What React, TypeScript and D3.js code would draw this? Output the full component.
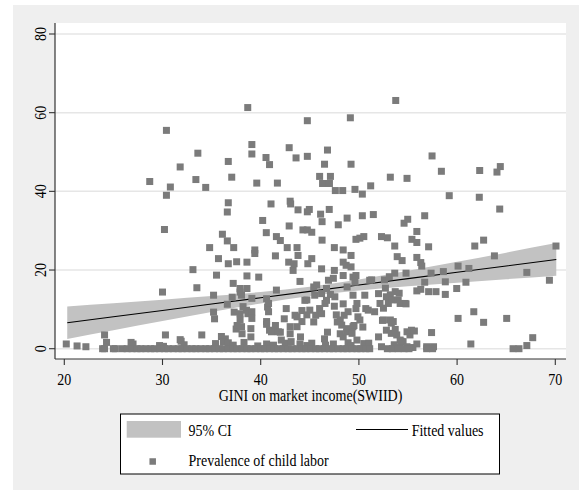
import React from "react";
import * as d3 from "d3";

// ---- Data ----
const xTicks = [20, 30, 40, 50, 60, 70];
const yTicks = [0, 20, 40, 60, 80];
const xTitle = "GINI on market income(SWIID)";
const legendLabels = ["95% CI", "Fitted values", "Prevalence of child labor"];

// fitted line and 95% CI read at these GINI values
const ciGini = [20.3, 25, 30, 35, 40, 45, 50, 55, 60, 65, 70.1];
const fitted = [6.6, 8.12, 9.73, 11.35, 12.96, 14.58, 16.2, 17.82, 19.43, 21.04, 22.69];
const ciLow = [2.45, 4.68, 7.02, 9.33, 11.5, 13.38, 14.78, 15.85, 16.78, 17.66, 18.54];
const ciHigh = [10.75, 11.56, 12.44, 13.37, 14.42, 15.78, 17.62, 19.79, 22.08, 24.42, 26.84];

// scatter points [gini, prevalence]
const highPoints: [number, number][] = [
  [28.7, 42.5], [30.4, 55.5], [30.4, 39.0], [30.8, 41.1], [31.8, 46.2], [33.4, 43.0], [33.6, 49.7],
  [34.4, 41.0], [36.6, 34.75], [36.7, 37.1], [36.7, 47.6], [37.05, 43.6], [38.68, 61.3], [39.1, 51.9],
  [39.1, 49.5], [39.6, 42.1], [40.54, 48.6], [40.9, 46.8], [41.05, 36.8], [41.7, 42.1], [42.9, 51.1],
  [43.0, 37.5], [43.05, 36.8], [43.6, 48.5], [43.8, 35.3], [44.75, 57.96], [44.75, 48.9], [44.75, 34.8],
  [44.95, 35.4], [46.0, 43.8], [46.3, 42.0], [46.5, 46.9], [46.8, 50.5], [46.98, 35.4], [47.0, 42.0],
  [47.1, 43.8], [47.6, 40.2], [48.35, 40.2], [49.13, 58.7], [49.2, 46.9], [49.6, 40.5], [50.35, 39.3],
  [51.2, 41.4], [53.2, 43.6], [53.75, 63.1], [54.9, 43.3], [57.45, 49.0], [58.4, 45.1], [59.2, 38.9],
  [62.3, 45.3], [62.26, 38.5], [64.06, 44.9], [64.4, 46.3], [64.34, 35.5],
];
const midPoints: [number, number][] = [
  [30.2, 30.3], [33.1, 20.1], [34.8, 25.7], [35.7, 22.9], [36.1, 29.1], [36.6, 27.4], [36.7, 21.6],
  [37.25, 25.7], [37.55, 22.1], [38.6, 22.0], [39.4, 25.1], [39.4, 24.2], [40.2, 32.6], [40.57, 29.5],
  [41.5, 23.6], [41.6, 28.5], [42.0, 27.5], [42.7, 25.7], [42.9, 31.2], [42.85, 22.0], [43.3, 19.9],
  [43.4, 21.6], [43.7, 25.7], [43.8, 23.7], [44.3, 30.2], [44.75, 30.2], [45.2, 29.6], [44.8, 21.6],
  [45.2, 22.9], [46.1, 34.2], [46.25, 32.3], [46.25, 27.6], [46.2, 20.3], [47.5, 25.7], [47.9, 31.5],
  [48.4, 25.1], [48.4, 22.0], [48.7, 21.2], [48.8, 33.2], [49.2, 23.7], [49.2, 20.8], [49.7, 27.8],
  [50.1, 28.1], [50.5, 28.5], [50.35, 33.8], [51.47, 34.1], [52.3, 28.5], [52.9, 28.2], [53.65, 26.1],
  [53.9, 23.4], [54.4, 22.4], [54.6, 31.9], [54.97, 32.9], [55.4, 27.8], [55.9, 27.0], [55.9, 29.8],
  [55.9, 23.2], [56.3, 21.9], [56.4, 21.0], [56.7, 33.8], [57.1, 25.9], [60.1, 21.0], [61.2, 20.4],
  [61.8, 26.1], [62.7, 27.6], [63.8, 23.6], [70.07, 26.1],
];
const lowerMidPoints: [number, number][] = [
  [30.0, 14.4], [33.5, 15.5], [35.2, 13.6], [35.5, 18.7], [36.6, 11.3], [37.2, 16.6], [37.1, 13.1],
  [37.9, 14.4], [37.9, 15.3], [38.05, 13.6], [38.6, 18.5], [38.6, 15.3], [39.1, 12.8], [39.8, 18.2],
  [40.6, 12.7], [40.7, 10.6], [40.8, 11.5], [41.6, 14.9], [42.6, 10.2], [44.0, 17.1], [44.5, 12.3],
  [44.7, 12.4], [45.5, 13.6], [45.4, 15.7], [45.7, 16.2], [46.2, 14.0], [46.55, 11.5], [46.7, 15.3],
  [46.7, 12.3], [46.9, 17.4], [47.1, 13.8], [47.4, 17.9], [47.5, 19.9], [47.55, 13.2], [47.5, 10.8],
  [48.4, 18.6], [48.4, 11.4], [48.8, 15.7], [49.4, 18.2], [49.4, 13.6], [49.6, 16.9], [49.7, 18.6],
  [49.8, 11.5], [49.7, 10.2], [50.6, 13.6], [50.7, 10.2], [51.1, 17.4], [51.3, 17.5], [52.0, 14.0],
  [52.15, 11.5], [52.7, 15.4], [52.8, 13.2], [52.6, 17.5], [53.0, 11.5], [53.1, 18.3], [53.2, 13.7],
  [53.35, 12.4], [53.65, 19.2], [53.7, 14.5], [54.0, 12.4], [54.1, 14.1], [54.2, 11.5], [54.7, 11.5],
  [54.8, 19.2], [54.8, 11.4], [55.9, 14.7], [56.3, 15.1], [56.7, 16.9], [57.1, 14.5], [57.35, 19.2],
  [57.85, 14.5], [58.6, 19.6], [58.8, 17.0], [58.8, 13.8], [59.96, 15.3], [60.9, 16.9], [67.1, 19.4],
  [69.4, 17.4],
];
const lowPoints: [number, number][] = [
  [24.1, 3.5], [30.3, 3.5], [31.8, 2.3], [34.0, 3.5], [35.2, 9.3], [35.3, 7.6], [36.0, 3.1], [36.4, 2.5],
  [37.3, 9.3], [37.5, 5.0], [37.6, 5.9], [37.9, 7.3], [37.9, 8.9], [38.05, 5.6], [38.1, 3.8], [38.2, 10.7],
  [38.55, 9.8], [38.7, 8.9], [39.0, 5.1], [39.0, 3.0], [39.1, 9.4], [39.1, 7.7], [40.6, 6.9], [40.6, 6.2],
  [40.8, 9.4], [40.9, 4.7], [41.1, 4.3], [41.5, 5.9], [41.8, 4.3], [42.0, 4.2], [42.1, 2.2], [42.4, 7.6],
  [43.0, 5.6], [43.0, 3.8], [43.5, 8.5], [43.7, 8.1], [43.7, 5.6], [44.05, 3.0], [44.2, 9.7], [44.2, 6.9],
  [44.7, 8.6], [45.0, 9.8], [45.4, 6.8], [45.6, 8.5], [46.0, 10.2], [46.2, 8.9], [46.5, 2.5], [46.8, 4.2],
  [47.7, 8.6], [47.8, 6.8], [48.1, 7.3], [48.1, 3.8], [48.25, 6.0], [48.4, 3.0], [48.5, 8.5], [48.75, 4.3],
  [48.8, 5.1], [48.9, 9.4], [49.3, 3.9], [49.4, 5.6], [49.5, 5.9], [49.9, 8.1], [50.1, 7.3], [49.8, 2.2],
  [50.4, 5.5], [50.95, 9.8], [51.6, 9.4], [52.0, 3.0], [52.4, 7.2], [52.5, 10.3], [52.5, 7.3], [52.8, 4.7],
  [53.2, 7.3], [53.3, 6.5], [53.3, 3.9], [53.5, 6.9], [53.7, 4.9], [53.85, 3.5], [54.2, 2.2], [54.5, 1.8],
  [54.9, 4.3], [55.2, 3.5], [55.35, 4.7], [55.65, 4.5], [57.4, 4.1], [60.1, 7.7], [61.7, 9.4], [62.7, 6.7],
  [65.05, 7.7], [67.7, 2.8],
];
const nearZeroPoints: [number, number][] = [
  [20.2, 1.2], [21.3, 0.7], [22.2, 0.5], [24.3, 1.6], [26.8, 1.6], [27.0, 1.2], [29.7, 0.8], [30.1, 0.6],
  [31.9, 1.9], [32.2, 1.0], [35.4, 1.3], [36.2, 1.8], [36.7, 1.5], [37.2, 0.9], [38.3, 1.6], [39.7, 0.7],
  [40.6, 1.2], [41.3, 0.9], [42.5, 1.4], [43.1, 1.8], [44.0, 1.2], [44.7, 0.8], [45.2, 1.4], [46.6, 0.9],
  [47.4, 1.2], [48.9, 1.5], [49.2, 0.8], [50.5, 1.3], [51.0, 1.4], [52.3, 0.5], [53.6, 1.0], [54.2, 0.3],
  [54.3, 1.9], [54.9, 0.5], [55.5, 0.3], [55.9, 1.2], [56.9, 0.5], [57.6, 0.5], [61.4, 1.2], [67.1, 0.8],
];
const zeroGini = [
  23.9, 24.1, 25.0, 25.2, 25.9, 26.4, 26.9, 27.4, 27.8, 28.3, 28.8, 29.2, 29.7, 30.2, 30.6, 31.1, 31.6,
  32.0, 32.5, 33.0, 33.4, 33.9, 34.4, 34.8, 35.3, 35.8, 36.2, 36.7, 37.2, 37.6, 38.1, 38.6, 39.0, 39.5,
  40.0, 40.4, 40.9, 41.4, 41.8, 42.3, 42.8, 43.2, 43.7, 44.2, 44.6, 45.1, 45.6, 46.0, 46.5, 47.0, 47.4,
  47.9, 48.4, 48.8, 49.3, 49.8, 50.2, 50.7, 51.1, 52.9, 53.4, 54.0, 54.6, 55.1, 56.9, 57.5, 65.7, 66.3,
];

const allPoints: [number, number][] = [
  ...highPoints,
  ...midPoints,
  ...lowerMidPoints,
  ...lowPoints,
  ...nearZeroPoints,
  ...zeroGini.map((g) => [g, 0] as [number, number]),
];

// ---- Layout ----
const W = 579;
const H = 490;
const plot = { left: 55, right: 566, top: 23, bottom: 359 };
const FONT = "'Liberation Serif', 'Times New Roman', serif";
const TSCALE = 1.17;
const MARKER = "#7b7b7b";
const CI_FILL = "#c2c2c2";

const x = d3.scaleLinear().domain([20, 70]).range([64.3, 555.3]);
const y = d3.scaleLinear().domain([0, 80]).range([348.7, 34]);

const ciArea = d3
  .area<number>()
  .x((_, i) => x(ciGini[i]))
  .y0((_, i) => y(ciLow[i]))
  .y1((_, i) => y(ciHigh[i]))
  .curve(d3.curveMonotoneX);
const fitLine = d3
  .line<number>()
  .x((_, i) => x(ciGini[i]))
  .y((_, i) => y(fitted[i]));

function T({ x: tx, y: ty, children, anchor = "start", rotate = 0 }: any) {
  return (
    <text
      transform={`translate(${tx},${ty}) rotate(${rotate}) scale(1,${TSCALE})`}
      fontFamily={FONT}
      fontSize={14}
      textAnchor={anchor}
      fill="#000"
    >
      {children}
    </text>
  );
}

export default function App() {
  const ms = 7;
  return (
    <svg width={W} height={H} style={{ position: "absolute", left: 0, top: 0 }}>
      <rect x={0} y={0} width={W} height={H} fill="#ffffff" />
      <rect x={13} y={5} width={W - 13} height={H - 5} fill="#efefef" />
      <rect
        x={plot.left}
        y={plot.top}
        width={plot.right - plot.left}
        height={plot.bottom - plot.top}
        fill="#ffffff"
      />
      {/* gridlines */}
      {yTicks.map((t) => (
        <line
          key={"g" + t}
          x1={plot.left}
          x2={plot.right}
          y1={y(t)}
          y2={y(t)}
          stroke="#e6e6e6"
          strokeWidth={1.5}
        />
      ))}
      {/* CI band and fitted line */}
      <path d={ciArea(ciGini) || ""} fill={CI_FILL} />
      <path d={fitLine(ciGini) || ""} fill="none" stroke="#000" strokeWidth={1.1} />
      {/* scatter */}
      {allPoints.map(([gx, gy], i) => (
        <rect
          key={i}
          x={x(gx) - ms / 2}
          y={y(gy) - ms / 2}
          width={ms}
          height={ms}
          fill={MARKER}
        />
      ))}
      {/* axes */}
      <line x1={plot.left} x2={plot.left} y1={plot.top} y2={plot.bottom} stroke="#333" strokeWidth={1.2} />
      <line x1={plot.left} x2={plot.right} y1={plot.bottom} y2={plot.bottom} stroke="#333" strokeWidth={1.2} />
      {yTicks.map((t) => (
        <g key={"yt" + t}>
          <line x1={plot.left - 6} x2={plot.left} y1={y(t)} y2={y(t)} stroke="#333" strokeWidth={1.1} />
          <T x={45.5} y={y(t)} anchor="middle" rotate={-90}>
            {t}
          </T>
        </g>
      ))}
      {xTicks.map((t) => (
        <g key={"xt" + t}>
          <line x1={x(t)} x2={x(t)} y1={plot.bottom} y2={plot.bottom + 6} stroke="#333" strokeWidth={1.1} />
          <T x={x(t)} y={385} anchor="middle">
            {t}
          </T>
        </g>
      ))}
      <T x={(plot.left + plot.right) / 2} y={401} anchor="middle">
        {xTitle}
      </T>
      {/* legend */}
      <rect x={120.5} y={414} width={379} height={60} fill="#ffffff" stroke="#000" strokeWidth={1} />
      <rect x={126.7} y={421} width={54.3} height={16.7} fill={CI_FILL} />
      <T x={188.5} y={436}>{legendLabels[0]}</T>
      <line x1={356} x2={408} y1={429.5} y2={429.5} stroke="#000" strokeWidth={1.1} />
      <T x={411.7} y={436}>{legendLabels[1]}</T>
      <rect x={152.7 - 3.25} y={461.5 - 3.25} width={6.5} height={6.5} fill={MARKER} />
      <T x={188.5} y={466}>{legendLabels[2]}</T>
    </svg>
  );
}
